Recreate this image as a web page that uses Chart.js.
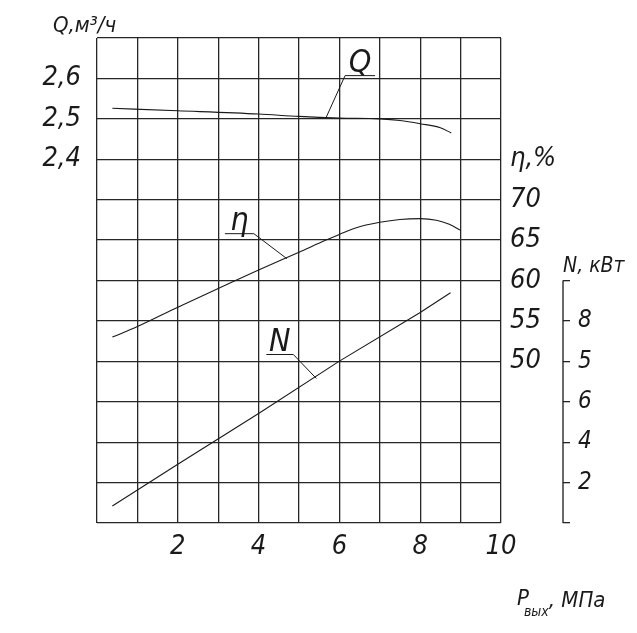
<!DOCTYPE html>
<html>
<head>
<meta charset="utf-8">
<script src="https://cdn.jsdelivr.net/npm/chart.js@4/dist/chart.umd.min.js"></script>
<style>
  html, body { margin: 0; padding: 0; background: #fff; }
  canvas { display: block; }
</style>
</head>
<body>
<canvas id="chart" width="637" height="633"></canvas>
<script>
// outlet pressure, MPa
const pressureTicks = [2, 4, 6, 8, 10];

// flow Q, m3/h
const qPressure = [0.38, 2, 4, 5, 6, 7, 7.5, 8, 8.5, 8.77];
const qValues = [2.526, 2.520, 2.512, 2.506, 2.502, 2.500, 2.496, 2.488, 2.478, 2.465];
const qTicks = [2.4, 2.5, 2.6];

// efficiency, %
const etaPressure = [0.38, 1, 2, 3, 4, 5, 5.67, 6, 6.4, 7, 7.5, 8, 8.4, 8.72, 9.0];
const etaValues = [53.0, 54.3, 56.7, 59.0, 61.3, 63.5, 65.0, 65.7, 66.5, 67.2, 67.55, 67.65, 67.45, 66.95, 66.2];
const etaTicks = [50, 55, 60, 65, 70];

// power N, kW
const nPressure = [0.38, 2, 4, 6, 8, 8.75];
const nValues = [0.84, 2.91, 5.42, 8.01, 10.42, 11.39];
const nTickValues = [2, 4, 6, 8, 10];
const nTickLabels = ['2', '4', '6', '5', '8'];  // as printed on the drawing

const FAMILY = "'Liberation Sans Narrow', 'DejaVu Sans Condensed', sans-serif";
const INK = '#1a1a1a';
const GRID = '#262626';

const toPoints = (xs, ys) => xs.map((x, i) => ({x, y: ys[i]}));

// leader-line labels: anchor on the curve in data units, elbow/underline in px
const callouts = [
  {text: 'Q', axis: 'yQ', p: 5.67, v: 2.503, dx: 19, dy: -42, run: 30},
  {text: 'η', axis: 'yEta', p: 4.70, v: 62.7, dx: -33, dy: -25, run: -29},
  {text: 'N', axis: 'yN', p: 5.43, v: 7.15, dx: -23, dy: -24, run: -27},
];

const drawingText = {
  id: 'drawingText',
  afterDraw(chart) {
    const {ctx, chartArea, scales} = chart;
    ctx.save();
    ctx.fillStyle = INK;
    ctx.strokeStyle = INK;
    ctx.textBaseline = 'alphabetic';

    // N axis spine only over its own range
    const yN = scales.yN;
    ctx.lineWidth = 1.3;
    ctx.beginPath();
    ctx.moveTo(yN.left, yN.getPixelForValue(0));
    ctx.lineTo(yN.left, yN.getPixelForValue(12));
    ctx.stroke();

    // axis titles
    ctx.textAlign = 'left';
    ctx.font = `italic 22px ${FAMILY}`;
    ctx.fillText('Q,м³/ч', chartArea.left - 44, chartArea.top - 6);
    ctx.font = `italic 21px ${FAMILY}`;
    ctx.fillText('N, кВт', yN.left, yN.getPixelForValue(12) - 9);

    let x = chartArea.right + 16;
    const base = chartArea.bottom + 82;
    ctx.font = `italic 22px ${FAMILY}`;
    ctx.fillText('P', x, base);
    x += ctx.measureText('P').width - 5;
    ctx.font = `italic 14px ${FAMILY}`;
    ctx.fillText('вых', x, base + 11);
    x += ctx.measureText('вых').width;
    ctx.font = `italic 22px ${FAMILY}`;
    ctx.fillText(', МПа', x, base + 2);

    // curve labels
    ctx.lineWidth = 1;
    ctx.font = `italic 32px ${FAMILY}`;
    ctx.textAlign = 'center';
    for (const c of callouts) {
      const px = scales.x.getPixelForValue(c.p);
      const py = scales[c.axis].getPixelForValue(c.v);
      const ex = px + c.dx, ey = py + c.dy;
      ctx.beginPath();
      ctx.moveTo(px, py);
      ctx.lineTo(ex, ey);
      ctx.lineTo(ex + c.run, ey);
      ctx.stroke();
      ctx.fillText(c.text, ex + c.run / 2, ey - 4);
    }
    ctx.restore();
  }
};

const lineStyle = {
  borderColor: INK,
  borderWidth: 1.1,
  pointRadius: 0,
  fill: false,
};

const tickFont = {family: FAMILY, size: 27, style: 'italic'};

new Chart(document.getElementById('chart'), {
  type: 'line',
  data: {
    datasets: [
      {...lineStyle, label: 'Q', data: toPoints(qPressure, qValues), yAxisID: 'yQ', cubicInterpolationMode: 'monotone'},
      {...lineStyle, label: 'η', data: toPoints(etaPressure, etaValues), yAxisID: 'yEta', cubicInterpolationMode: 'monotone'},
      {...lineStyle, label: 'N', data: toPoints(nPressure, nValues), yAxisID: 'yN', tension: 0},
    ]
  },
  options: {
    responsive: false,
    animation: false,
    layout: {padding: {top: 38, left: 0, right: 0, bottom: 0}},
    plugins: {legend: {display: false}, tooltip: {enabled: false}},
    scales: {
      x: {
        type: 'linear',
        min: 0,
        max: 10,
        border: {display: false},
        grid: {color: GRID, lineWidth: 1.3, drawTicks: false},
        ticks: {
          stepSize: 1,
          autoSkip: false,
          maxRotation: 0,
          padding: 8,
          color: INK,
          font: tickFont,
          callback: (v) => pressureTicks.includes(v) ? String(v) : '',
        },
        afterFit: (s) => { s.height = 110; },
      },
      yQ: {
        position: 'left',
        min: 1.5,
        max: 2.7,
        border: {display: false},
        grid: {display: false},
        ticks: {
          stepSize: 0.1,
          autoSkip: false,
          padding: 8,
          color: INK,
          font: tickFont,
          callback: (v) => {
            const r = Math.round(v * 10) / 10;
            return qTicks.includes(r) ? r.toFixed(1).replace('.', ',') : '';
          },
        },
        afterFit: (s) => { s.width = 97; },
      },
      yEta: {
        position: 'right',
        min: 30,
        max: 90,
        border: {display: false},
        grid: {color: GRID, lineWidth: 1.3, drawTicks: false},
        ticks: {
          stepSize: 5,
          autoSkip: false,
          padding: 9,
          color: INK,
          font: tickFont,
          callback: (v) => v === 75 ? 'η,%' : (etaTicks.includes(v) ? String(v) : ''),
        },
        afterFit: (s) => { s.width = 62; },
      },
      yN: {
        position: 'right',
        min: 0,
        max: 24,
        border: {display: false},
        grid: {
          drawOnChartArea: false,
          drawTicks: true,
          tickLength: 7,
          lineWidth: 1.3,
          color: (c) => (c.tick && c.tick.value <= 12) ? GRID : 'rgba(0,0,0,0)',
        },
        ticks: {
          stepSize: 2,
          autoSkip: false,
          padding: 8,
          color: INK,
          font: {family: FAMILY, size: 24, style: 'italic'},
          callback: (v) => {
            const i = nTickValues.indexOf(v);
            return i >= 0 ? nTickLabels[i] : '';
          },
        },
        afterFit: (s) => { s.width = 74; },
      },
    },
  },
  plugins: [drawingText],
});
</script>
</body>
</html>
